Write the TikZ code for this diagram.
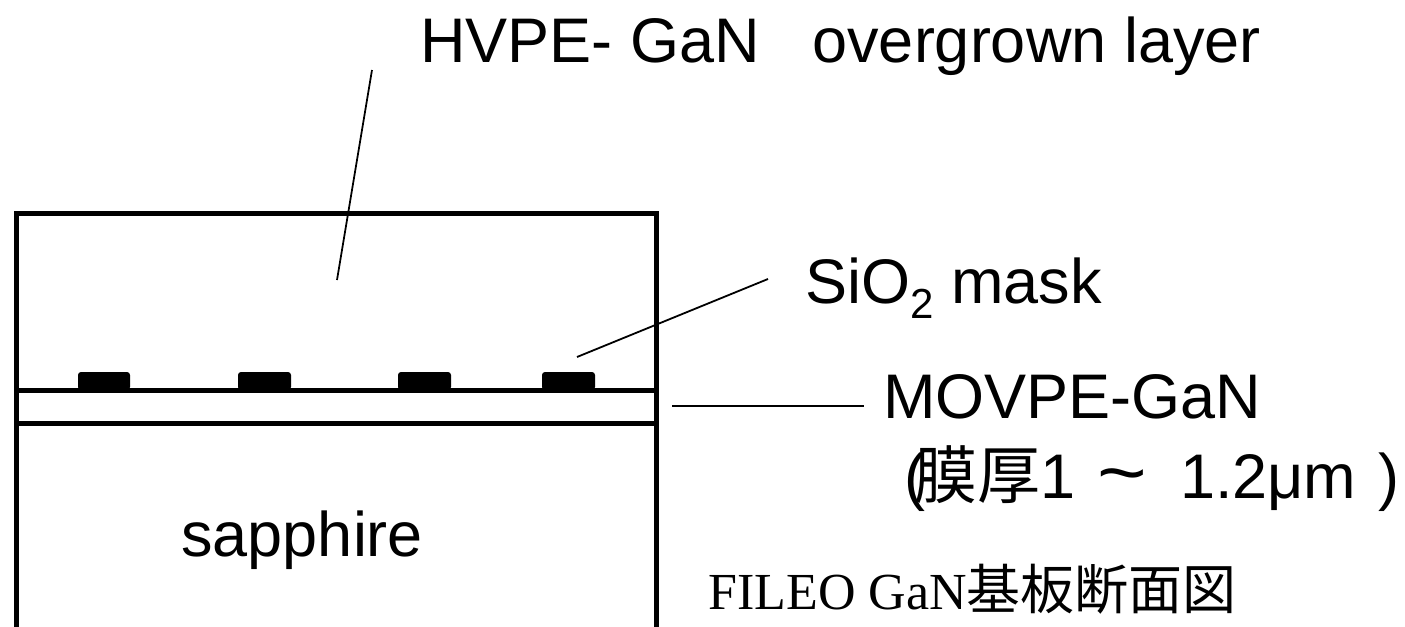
\documentclass[tikz,border=0pt]{standalone}
\usepackage{fontspec}
\setmainfont{Liberation Sans}
\newfontfamily\serifrm{Liberation Serif}
\newfontfamily\jpfont{Noto Sans CJK JP}
\begin{document}
\begin{tikzpicture}[x=0.5pt,y=-0.5pt,
  wall/.style={line width=2.5pt,line cap=rect},
  leader/.style={line width=0.9pt},
  maskbox/.style={fill=black,rounded corners=1.5pt},
  lbl/.style={inner sep=0pt,anchor=base west,font=\fontsize{31.5}{36}\selectfont}]
\useasboundingbox (0,0) rectangle (1405,627);
% substrate and layer outline
\draw[wall] (16,640) -- (16,213) -- (656,213) -- (656,640);
\draw[wall] (16,390) -- (656,390);
\draw[wall] (16,423) -- (656,423);
% SiO2 stripes on the MOVPE layer
\foreach \xa/\xb in {78/130,238/291,398/451,542/595}
  \fill[maskbox] (\xa,390) rectangle (\xb,372);
% labels
\node[lbl] (hvpe) at (420,62) {HVPE- GaN\ \ \ overgrown layer};
\node[lbl] (sio) at (805,303) {SiO\raisebox{-7.5pt}{\fontsize{21}{24}\selectfont 2} mask};
\node[lbl] (movpe) at (883,418) {MOVPE-GaN};
\node[lbl] (thick) at (904,498) {(\kern-5.5pt{\jpfont 膜厚}1\hspace{11pt}\scalebox{1.35}[1.2]{\textasciitilde}\hspace{16.5pt}1.2μm\hspace{11pt})};
\node[lbl] (sapph) at (181,556) {sapphire};
\node[inner sep=0pt,anchor=base west,font=\fontsize{26}{30}\selectfont] (title) at (708,609) {\serifrm FILEO GaN{\jpfont\fontsize{27}{30}\selectfont 基板断面図}};
% leader lines
\coordinate (hvpeA) at (372,70);
\coordinate (hvpeB) at (337,280);
\coordinate (sioA) at (768,279);
\coordinate (sioB) at (577,357);
\coordinate (movA) at (672,406);
\coordinate (movB) at (864,406);
\draw[leader] (hvpeA) -- (hvpeB);
\draw[leader] (sioA) -- (sioB);
\draw[leader] (movA) -- (movB);
\end{tikzpicture}
\end{document}
